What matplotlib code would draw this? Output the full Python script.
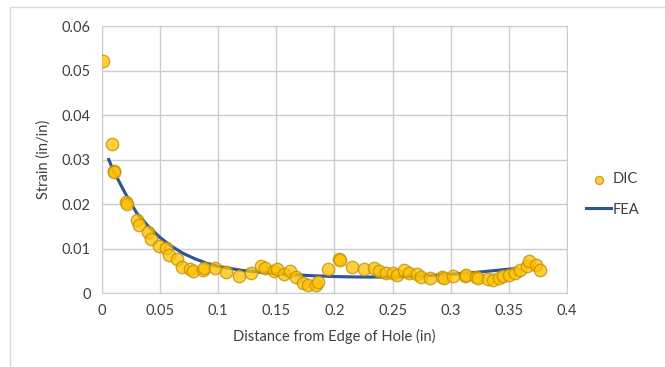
import matplotlib
matplotlib.use("Agg")
import matplotlib.pyplot as plt
from matplotlib.patches import Rectangle

# DIC measured points
dic_x = [0.0007, 0.0089, 0.0105, 0.0108, 0.021, 0.022, 0.030, 0.032, 0.040, 0.0425,
         0.049, 0.055, 0.058, 0.065, 0.069, 0.076, 0.078, 0.087, 0.088, 0.097,
         0.107, 0.118, 0.128, 0.137, 0.140, 0.148, 0.151, 0.157, 0.162, 0.167,
         0.173, 0.177, 0.184, 0.186, 0.194, 0.2035, 0.205, 0.215, 0.225, 0.234,
         0.238, 0.244, 0.250, 0.254, 0.260, 0.264, 0.271, 0.274, 0.282, 0.292,
         0.294, 0.302, 0.312, 0.313, 0.322, 0.323, 0.332, 0.336, 0.341, 0.345,
         0.350, 0.355, 0.359, 0.365, 0.367, 0.373, 0.377]
dic_y = [0.0521, 0.0336, 0.0274, 0.0271, 0.0205, 0.0200, 0.0163, 0.0153, 0.0137, 0.0121,
         0.0106, 0.0102, 0.0085, 0.0077, 0.0058, 0.0055, 0.0050, 0.0051, 0.0057, 0.0056,
         0.0047, 0.0039, 0.0045, 0.0060, 0.0056, 0.0049, 0.0054, 0.0043, 0.0049, 0.0036,
         0.0022, 0.0019, 0.0019, 0.0024, 0.0054, 0.0076, 0.0075, 0.0058, 0.0054, 0.0056,
         0.0049, 0.0046, 0.0045, 0.0041, 0.0052, 0.0045, 0.0043, 0.0037, 0.0034, 0.0036,
         0.0034, 0.0039, 0.0039, 0.0041, 0.0036, 0.0034, 0.0031, 0.0030, 0.0034, 0.0039,
         0.0041, 0.0045, 0.0052, 0.0060, 0.0071, 0.0064, 0.0052]

# FEA curve
fea_x = [0.006, 0.01, 0.02, 0.03, 0.04, 0.05, 0.06, 0.07, 0.08, 0.09, 0.1, 0.12,
         0.14, 0.16, 0.18, 0.2, 0.22, 0.24, 0.26, 0.28, 0.3, 0.32, 0.34, 0.355]
fea_y = [0.030, 0.0275, 0.0225, 0.0180, 0.0150, 0.0125, 0.0105, 0.0089, 0.0077, 0.0067,
         0.0060, 0.0051, 0.0046, 0.0042, 0.0039, 0.0037, 0.0036, 0.0036, 0.0037, 0.0039,
         0.0042, 0.0046, 0.0051, 0.0055]

plt.rcParams['font.family'] = ['Lato', 'DejaVu Sans']

fig = plt.figure(figsize=(6.65, 3.67), dpi=100)
ax = fig.add_axes([0.153, 0.2016, 0.7, 0.7274])

ax.plot(fea_x, fea_y, color='#2F5597', lw=2.25, label='FEA', zorder=2)
ax.scatter(dic_x, dic_y, s=80, facecolor='#FFC000', edgecolor='#BF9000', alpha=0.75,
           linewidths=1.0, label='DIC', zorder=3)

ax.set_xlim(0, 0.4)
ax.set_ylim(0, 0.06)
ax.set_xticks([0, 0.05, 0.1, 0.15, 0.2, 0.25, 0.3, 0.35, 0.4])
ax.set_xticklabels(['0', '0.05', '0.1', '0.15', '0.2', '0.25', '0.3', '0.35', '0.4'])
ax.set_yticks([0, 0.01, 0.02, 0.03, 0.04, 0.05, 0.06])
ax.set_yticklabels(['0', '0.01', '0.02', '0.03', '0.04', '0.05', '0.06'])
ax.grid(True, color='#cccccc', lw=1)
ax.set_axisbelow(True)
for s in ax.spines.values():
    s.set_color('#cccccc')
ax.tick_params(length=0, labelsize=10.5, colors='#404040', pad=8)
ax.set_xlabel('Distance from Edge of Hole (in)', fontsize=10.5, color='#404040', labelpad=8)
ax.set_ylabel('Strain (in/in)', fontsize=10.5, color='#404040', labelpad=8)

h, l = ax.get_legend_handles_labels()
leg = fig.legend(h[::-1], l[::-1], loc='center left', bbox_to_anchor=(0.862, 0.47),
                 frameon=False, fontsize=10.5, handlelength=1.7, labelspacing=1.1,
                 handletextpad=0.1, markerscale=0.65)
for t in leg.get_texts():
    t.set_color('#404040')

fig.patches.append(Rectangle((0.015, -0.01), 1.0, 0.99, transform=fig.transFigure,
                             fill=False, edgecolor='#d9d9d9', lw=1))

fig.savefig('out.png', dpi=100)
